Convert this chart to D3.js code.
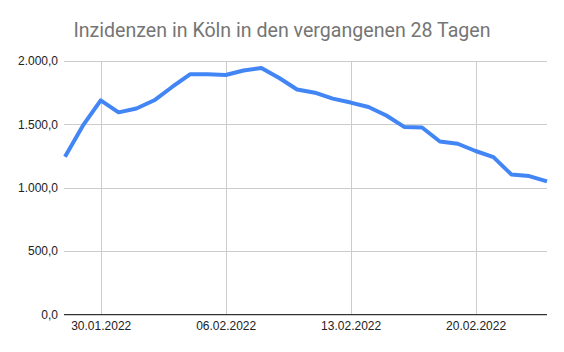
<!DOCTYPE html>
<html>
<head>
<meta charset="utf-8">
<script src="https://cdn.jsdelivr.net/npm/d3@7"></script>
<style>
  body { margin: 0; background: #fff; }
  .tick text { font-family: Arial, "Liberation Sans", sans-serif; font-size: 12px; fill: #222; }
</style>
</head>
<body>
<div id="chart"></div>
<script>
// Inzidenzen Köln, 28.01.2022 - 24.02.2022
var startDate = "2022-01-28";
var values = [1245, 1490, 1690, 1595, 1625, 1690, 1795, 1895, 1895, 1890, 1925, 1945, 1866, 1775,
              1750, 1703, 1672, 1637, 1570, 1480, 1475, 1365, 1347, 1290, 1242, 1105, 1092, 1050];
var yTicks = [0, 500, 1000, 1500, 2000];
var xTickDates = ["2022-01-30", "2022-02-06", "2022-02-13", "2022-02-20"];

var width = 564;
var height = 352;

var parseDate = d3.timeParse("%Y-%m-%d");
var start = parseDate(startDate);
var data = values.map(function(v, i) {
  return { date: d3.timeDay.offset(start, i), value: v };
});

var de = d3.formatLocale({ decimal: ",", thousands: ".", grouping: [3], currency: ["", " €"] });
var fmtY = de.format(",.1f");

var svg = d3.select("#chart")
  .append("svg")
  .attr("width", width)
  .attr("height", height);

var xScale = d3.scaleTime()
  .domain([data[0].date, data[data.length - 1].date])
  .range([65, 547]);

var yScale = d3.scaleLinear()
  .domain([0, 2000])
  .range([314.5, 61]);

// title
svg.append("text")
  .attr("x", 282)
  .attr("y", 37)
  .attr("text-anchor", "middle")
  .style("font-family", "Roboto, sans-serif")
  .style("font-size", "19.6px")
  .style("fill", "#757575")
  .text("Inzidenzen in Köln in den vergangenen 28 Tagen");

// horizontal grid + y labels
var yAxis = d3.axisLeft(yScale)
  .tickValues(yTicks)
  .tickSize(-(547 - 64))
  .tickPadding(6)
  .tickFormat(fmtY);

svg.append("g")
  .attr("transform", "translate(64,0)")
  .call(yAxis)
  .call(function(g) {
    g.select(".domain").remove();
    g.selectAll(".tick line").attr("stroke", "#ccc").attr("shape-rendering", "crispEdges");
  });

// vertical grid + x labels
var xAxis = d3.axisBottom(xScale)
  .tickValues(xTickDates.map(parseDate))
  .tickSize(-(314.5 - 61))
  .tickPadding(7)
  .tickFormat(d3.timeFormat("%d.%m.%Y"));

svg.append("g")
  .attr("transform", "translate(0,314.5)")
  .call(xAxis)
  .call(function(g) {
    g.select(".domain").remove();
    g.selectAll(".tick line").attr("stroke", "#ccc").attr("shape-rendering", "crispEdges");
  });

// baseline
svg.append("line")
  .attr("x1", 64)
  .attr("x2", 547)
  .attr("y1", yScale(0))
  .attr("y2", yScale(0))
  .attr("stroke", "#333")
  .attr("stroke-width", 1)
  .attr("shape-rendering", "crispEdges");

var line = d3.line()
  .x(function(d) { return xScale(d.date); })
  .y(function(d) { return yScale(d.value); });

svg.append("path")
  .datum(data)
  .attr("d", line)
  .attr("fill", "none")
  .attr("stroke", "#4285f4")
  .attr("stroke-width", 4)
  .attr("stroke-linejoin", "round");
</script>
</body>
</html>
